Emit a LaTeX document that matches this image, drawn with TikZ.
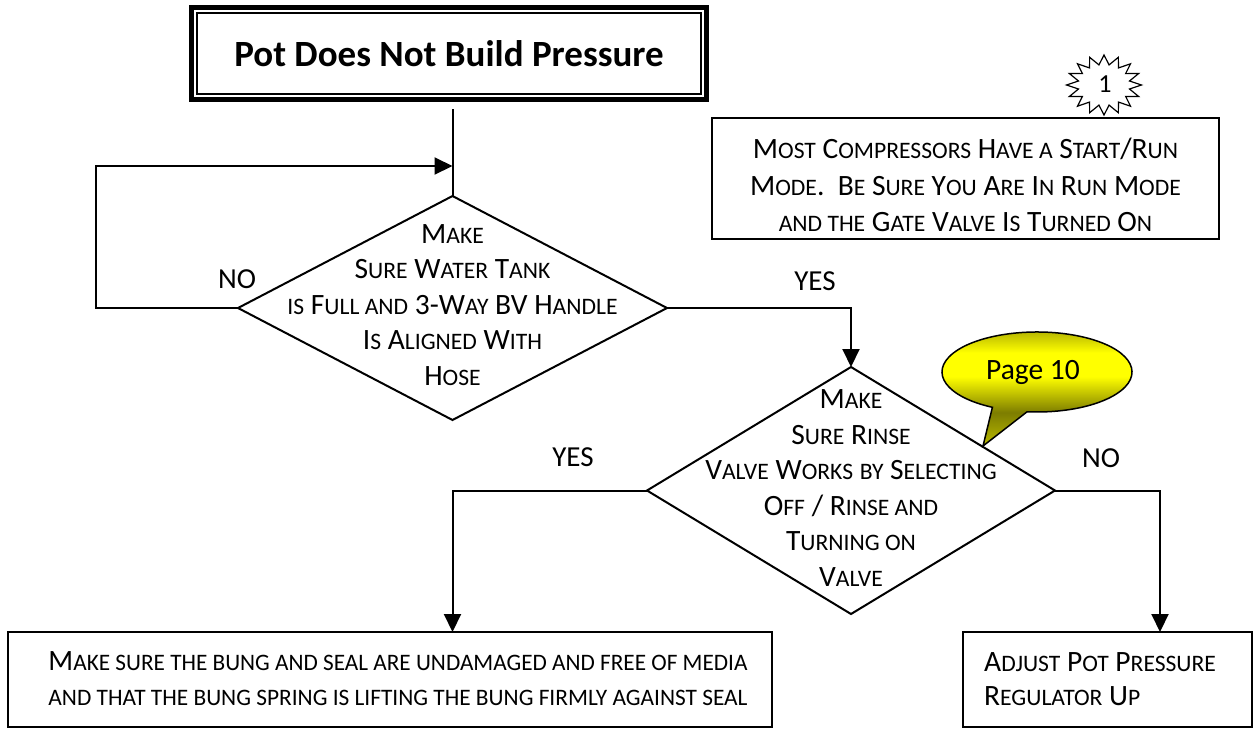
\documentclass[tikz,border=0pt]{standalone}
\usepackage{fontspec}
\setmainfont{Carlito}
\usepackage{graphicx}
\usetikzlibrary{arrows.meta,shapes.geometric}
\newcommand\sm[1]{\scalebox{0.8}{#1}}
\definecolor{calltop}{RGB}{165,165,0}
\definecolor{callmid}{RGB}{255,255,0}
\definecolor{callbot}{RGB}{125,125,0}
\definecolor{calltip}{RGB}{185,185,0}
\pgfdeclareverticalshading{callshade}{100bp}{color(0bp)=(calltip); color(25bp)=(calltip); color(39bp)=(callbot); color(54bp)=(callmid); color(64bp)=(callmid); color(75bp)=(calltop); color(100bp)=(calltop)}
\begin{document}
\begin{tikzpicture}[x=1pt,y=-1pt,
  conn/.style={line width=2pt},
  arr/.style={conn,-{Triangle[length=18pt,width=17pt]}},
  box/.style={draw,line width=2pt,inner sep=0pt,outer sep=0pt},
  dia/.style={draw,diamond,line width=2pt,inner sep=0pt,outer sep=0pt},
  body/.style={font=\fontsize{29.5}{35.6}\selectfont,align=center,inner sep=0pt},
  lbl/.style={font=\fontsize{29}{34}\selectfont,inner sep=0pt}]
\fill[white] (0,0) rectangle (1256,732);
\useasboundingbox (0,0) rectangle (1256,732);

% title
\node[draw,line width=4.5pt,inner sep=0pt,outer sep=0pt,minimum width=515pt,minimum height=92pt,
      font=\fontsize{37}{40}\selectfont\bfseries] (title) at (449,53.5) {Pot Does Not Build Pressure};
\draw[line width=1.3pt] ([shift={(5.5,5.5)}]title.north west) rectangle ([shift={(-5.5,-5.5)}]title.south east);

% first decision
\node[dia,minimum width=429pt,minimum height=224pt] (d1) at (452.5,308) {};
\node[body] (t1) at (452.5,305) {M\sm{AKE}\\S\sm{URE} W\sm{ATER} T\sm{ANK}\\\sm{IS} F\sm{ULL AND} 3-W\sm{AY} BV H\sm{ANDLE}\\I\sm{S} A\sm{LIGNED} W\sm{ITH}\\H\sm{OSE}};

\coordinate (top) at (452.5,109);
\coordinate (loopc) at (452.5,166);
\draw[conn] (top) -- (d1.north);
\draw[arr] (d1.west) -- ++(-142,0) |- (loopc);

% second decision
\node[dia,minimum width=408pt,minimum height=247pt] (d2) at (851,490.5) {};
\node[body] (t2) at (851,488) {M\sm{AKE}\\S\sm{URE} R\sm{INSE}\\V\sm{ALVE} W\sm{ORKS} \sm{BY} S\sm{ELECTING}\\O\sm{FF} / R\sm{INSE AND}\\T\sm{URNING ON}\\V\sm{ALVE}};
\draw[arr] (d1.east) -| (d2.north);

% result boxes
\node[box,minimum width=764pt,minimum height=95pt] (b1) at (390,679.5) {};
\node[inner sep=0pt,align=center,font=\fontsize{29.5}{35}\selectfont] (b1t) at (398,679)
  {\resizebox{699pt}{\height}{M\sm{AKE SURE THE BUNG AND SEAL ARE UNDAMAGED AND FREE OF MEDIA}}\\
   \resizebox{699pt}{\height}{\sm{AND THAT THE BUNG SPRING IS LIFTING THE BUNG FIRMLY AGAINST SEAL}}};

\node[box,minimum width=289pt,minimum height=95pt] (b2) at (1107.5,679.5) {};
\node[inner sep=0pt,align=left,anchor=west,font=\fontsize{29.5}{34}\selectfont] (b2t) at (984,679)
  {A\sm{DJUST} P\sm{OT} P\sm{RESSURE}\\R\sm{EGULATOR} U\sm{P}};

\coordinate (nox) at (1160,490.5);
\draw[arr] (d2.west) -| (top |- b1.north);
\draw[arr] (d2.east) -- (nox) -- (nox |- b2.north);

% note box
\node[box,minimum width=507pt,minimum height=121pt] (note) at (965.5,178.5) {};
\node[body,font=\fontsize{29.5}{36.5}\selectfont] (notet) at (965.5,185)
  {M\sm{OST} C\sm{OMPRESSORS} H\sm{AVE A} S\sm{TART}/R\sm{UN}\\M\sm{ODE}.\ \ B\sm{E} S\sm{URE} Y\sm{OU} A\sm{RE} I\sm{N} R\sm{UN} M\sm{ODE}\\\sm{AND THE} G\sm{ATE} V\sm{ALVE} I\sm{S} T\sm{URNED} O\sm{N}};

% star
\draw[line width=1.2pt,fill=white] plot[samples at={0,...,31},variable=\k]
  ({1104+ifthenelse(mod(\k,2)==0,37.5,26)*cos(\k*11.25+90)},{85+ifthenelse(mod(\k,2)==0,30,20.5)*sin(\k*11.25+90)}) -- cycle;
\node[inner sep=0pt,font=\fontsize{26}{28}\selectfont] (star1) at (1105,84) {1};

% callout
\draw[line width=1.5pt,shading=callshade]
  (992.4,407.3) arc[start angle=118,end angle=456,x radius=95,y radius=40] -- (983,446) -- cycle;
\node[inner sep=0pt,anchor=base,font=\fontsize{29.5}{34}\selectfont] (page) at (1033,379) {Page 10};

% labels
\node[lbl] (no1) at (237,279) {NO};
\node[lbl] (yes1) at (815,281) {YES};
\node[lbl] (yes2) at (573,457.5) {YES};
\node[lbl] (no2) at (1101,458) {NO};
\end{tikzpicture}
\end{document}
